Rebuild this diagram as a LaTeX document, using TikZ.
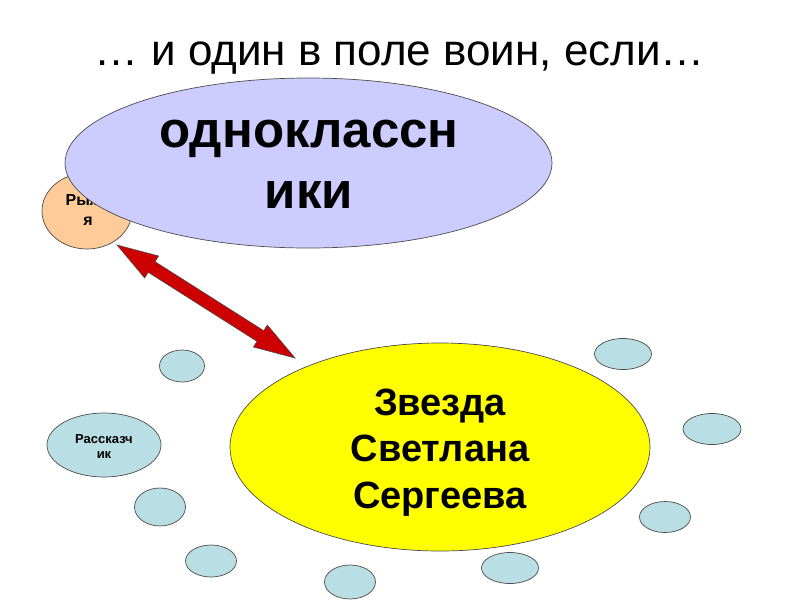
\documentclass[tikz,border=0pt]{standalone}
\usepackage{fontspec}
\setmainfont{Liberation Sans}
\usetikzlibrary{shapes.geometric,calc}
\definecolor{lav}{HTML}{CCCCFF}
\definecolor{peach}{HTML}{FFCC99}
\definecolor{sun}{HTML}{FFFF00}
\definecolor{aqua}{RGB}{185,223,228}
\definecolor{arrowred}{HTML}{CC0000}
\begin{document}
\begin{tikzpicture}[x=1pt,y=-1pt,
  blob/.style={ellipse, draw=black!70, line width=0.7pt, inner sep=0pt},
  bubble/.style={blob, fill=aqua},
  lbl/.style={anchor=base, inner sep=0pt, text=black},
  bigtxt/.style={lbl, font=\bfseries\fontsize{51}{61}\selectfont},
  startxt/.style={lbl, font=\bfseries\fontsize{38}{46}\selectfont},
  smalltxt/.style={lbl, font=\bfseries\fontsize{13}{15}\selectfont},
  peachtxt/.style={lbl, font=\bfseries\fontsize{16}{19}\selectfont},
  blockarrow/.style={fill=arrowred, draw=black!70, line width=0.6pt, line join=miter}
]
\useasboundingbox (0,0) rectangle (800,600);
\fill[white] (0,0) rectangle (800,600);

% orange circle (partly hidden)
\node[blob, fill=peach, minimum width=90pt, minimum height=76pt] (ryzh) at (87,211) {};
\node[peachtxt] (ryzhA) at (88,205) {Рыжа};
\node[peachtxt] (ryzhB) at (88,225) {я};

% classmates ellipse
\node[blob, fill=lav, minimum width=487pt, minimum height=170pt] (odn) at (308.5,163) {};
\node[bigtxt] (odnA) at (309,147) {одноклассн};
\node[bigtxt] (odnB) at (309,208) {ики};

% double block arrow
\coordinate (a1) at (117,245);
\coordinate (a2) at (295,358);
\coordinate (h1) at ($(a1)!41pt!(a2)$);
\coordinate (h2) at ($(a2)!41pt!(a1)$);
\draw[blockarrow] (a1) -- ($(h1)!13pt!90:(a2)$) -- ($(h1)!6.3pt!90:(a2)$)
  -- ($(h2)!6.3pt!-90:(a1)$) -- ($(h2)!13pt!-90:(a1)$) -- (a2)
  -- ($(h2)!13pt!90:(a1)$) -- ($(h2)!6.3pt!90:(a1)$)
  -- ($(h1)!6.3pt!-90:(a2)$) -- ($(h1)!13pt!-90:(a2)$) -- cycle;

% star ellipse
\node[blob, fill=sun, minimum width=420pt, minimum height=208pt] (star) at (440,447) {};
\node[startxt] (starA) at (440,415) {Звезда};
\node[startxt] (starB) at (440,461) {Светлана};
\node[startxt] (starC) at (440,508) {Сергеева};

% narrator
\node[bubble, minimum width=114pt, minimum height=64pt] (rass) at (104,445) {};
\node[smalltxt] (rassA) at (104,443) {Рассказч};
\node[smalltxt] (rassB) at (104,458) {ик};

% small bubbles
\node[bubble, minimum width=45pt, minimum height=32pt] (s1) at (182,366) {};
\node[bubble, minimum width=57pt, minimum height=31pt] (s2) at (623,354) {};
\node[bubble, minimum width=58pt, minimum height=31pt] (s3) at (712,429) {};
\node[bubble, minimum width=51pt, minimum height=38pt] (s4) at (160,507) {};
\node[bubble, minimum width=51pt, minimum height=31pt] (s5) at (665,517) {};
\node[bubble, minimum width=51pt, minimum height=32pt] (s6) at (211,561) {};
\node[bubble, minimum width=51pt, minimum height=34pt] (s7) at (350,582) {};
\node[bubble, minimum width=57pt, minimum height=31pt] (s8) at (510,568) {};

% title
\node[lbl, font=\fontsize{44}{53}\selectfont] (title) at (400,65) {… и один в поле воин, если…};
\end{tikzpicture}
\end{document}
